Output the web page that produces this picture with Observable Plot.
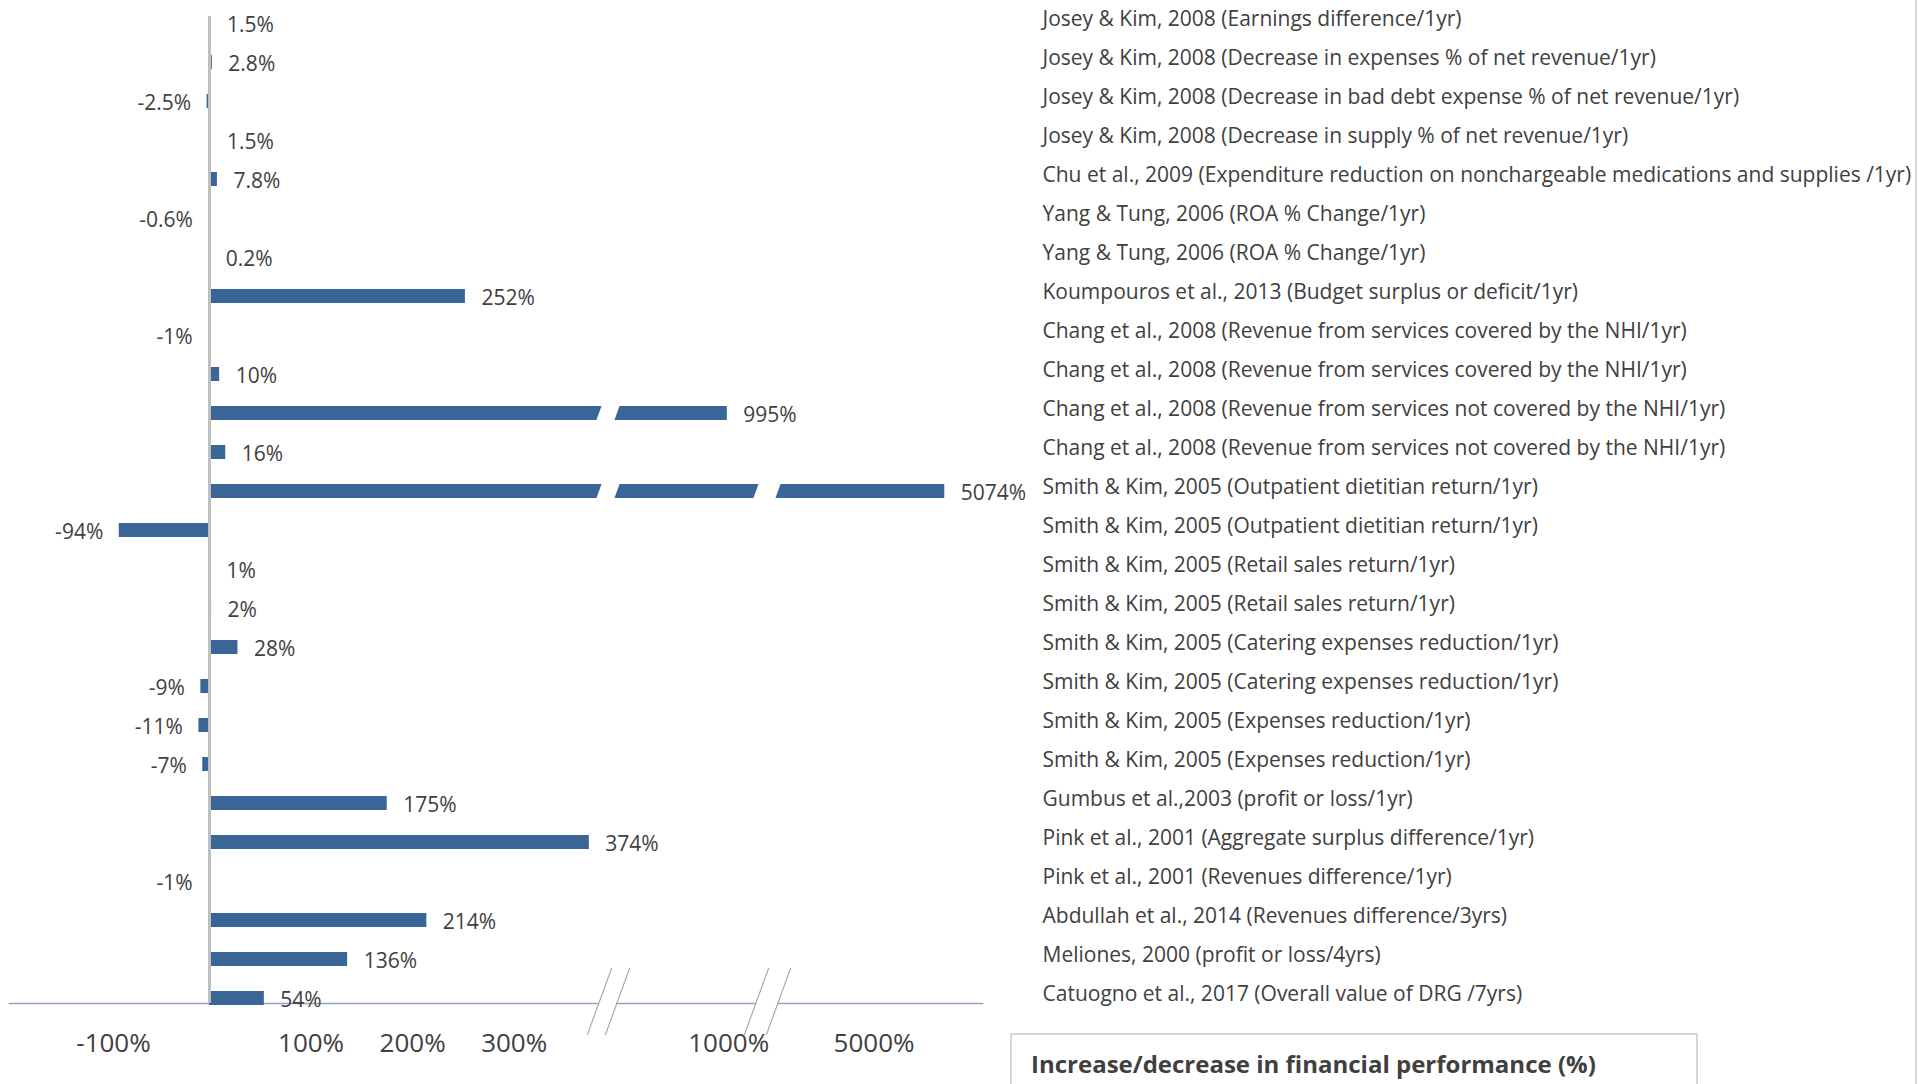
<!DOCTYPE html>
<html>
<head>
<meta charset="utf-8">
<script src="https://cdn.jsdelivr.net/npm/d3@7"></script>
<script src="https://cdn.jsdelivr.net/npm/@observablehq/plot@0.6"></script>
<style>
  html, body { margin: 0; padding: 0; background: #fff; overflow: hidden; }
  #wrap { position: relative; width: 1921px; height: 1084px; }
  #edge { position: absolute; left: 1915px; top: 0; width: 2px; height: 1084px; background: #d9d9d9; }
  #title { position: absolute; left: 1010px; top: 1033px; width: 688px; height: 60px; box-sizing: border-box;
           border: 2px solid #d6d6d6; background: #fff; display: flex; align-items: center; padding-left: 19px;
           font-family: "Open Sans", sans-serif; font-weight: 700; font-size: 24px; color: #404040; }
</style>
</head>
<body>
<div id="wrap">
  <div id="chart"></div>
  <div id="edge"></div>
  <div id="title">Increase/decrease in financial performance (%)</div>
</div>
<script>
// ---- data (top to bottom) ----
const studies = [
  "Josey & Kim, 2008 (Earnings difference/1yr)",
  "Josey & Kim, 2008 (Decrease in expenses % of net revenue/1yr)",
  "Josey & Kim, 2008 (Decrease in bad debt expense % of net revenue/1yr)",
  "Josey & Kim, 2008 (Decrease in supply % of net revenue/1yr)",
  "Chu et al., 2009 (Expenditure reduction on nonchargeable medications and supplies /1yr)",
  "Yang & Tung, 2006 (ROA % Change/1yr)",
  "Yang & Tung, 2006 (ROA % Change/1yr)",
  "Koumpouros et al., 2013 (Budget surplus or deficit/1yr)",
  "Chang et al., 2008 (Revenue from services covered by the NHI/1yr)",
  "Chang et al., 2008 (Revenue from services covered by the NHI/1yr)",
  "Chang et al., 2008 (Revenue from services not covered by the NHI/1yr)",
  "Chang et al., 2008 (Revenue from services not covered by the NHI/1yr)",
  "Smith & Kim, 2005 (Outpatient dietitian return/1yr)",
  "Smith & Kim, 2005 (Outpatient dietitian return/1yr)",
  "Smith & Kim, 2005 (Retail sales return/1yr)",
  "Smith & Kim, 2005 (Retail sales return/1yr)",
  "Smith & Kim, 2005 (Catering expenses reduction/1yr)",
  "Smith & Kim, 2005 (Catering expenses reduction/1yr)",
  "Smith & Kim, 2005 (Expenses reduction/1yr)",
  "Smith & Kim, 2005 (Expenses reduction/1yr)",
  "Gumbus et al.,2003 (profit or loss/1yr)",
  "Pink et al., 2001 (Aggregate surplus difference/1yr)",
  "Pink et al., 2001 (Revenues difference/1yr)",
  "Abdullah et al., 2014 (Revenues difference/3yrs)",
  "Meliones, 2000 (profit or loss/4yrs)",
  "Catuogno et al., 2017 (Overall value of DRG /7yrs)"
];
const values = [1.5, 2.8, -2.5, 1.5, 7.8, -0.6, 0.2, 252, -1, 10, 995, 16, 5074, -94,
                1, 2, 28, -9, -11, -7, 175, 374, -1, 214, 136, 54];
const xTicks = [-100, 100, 200, 300, 1000, 5000];
// broken axis: value intervals that are collapsed into a small gap
const breaks = [{from: 384, to: 600}, {from: 1100, to: 4900}];

// ---- broken-axis scale transform ----
const brokenAxis = d3.scaleLinear()
  .domain([-100, 0, 384, 600, 1100, 4900, 5080])
  .range([-96, 0, 390, 408, 547, 569, 741]);

const rows = values.map((v, i) => ({i, value: v, label: v + "%"}));
const gapRows = breaks.flatMap(b => rows.filter(d => d.value > b.to).map(d => ({i: d.i, from: b.from, to: b.to})));
const slashes = breaks.flatMap(b => [b.from, b.to]);

const BAR = "#3a6597";
const TEXT = "#404040";

const chart = Plot.plot({
  width: 1921,
  height: 1084,
  marginTop: 16,
  marginBottom: 81,
  marginLeft: 9,
  marginRight: 939,
  style: {fontFamily: "Open Sans, sans-serif", background: "transparent", overflow: "visible"},
  x: {transform: (v) => brokenAxis(v), domain: [-200, 773], label: null},
  y: {domain: d3.range(studies.length), range: [0, 1022], paddingInner: 0.64, paddingOuter: 0.32, label: null},
  marks: [
    Plot.frame({anchor: "bottom", stroke: "#8ea3c9", strokeWidth: 1.6}),
    Plot.barX(rows, {x1: () => 0, x2: "value", y: "i", fill: BAR}),
    Plot.barX(gapRows, {x1: "from", x2: "to", y: "i", fill: "#fffffe", insetTop: -2, insetBottom: -2}),
    Plot.rect(breaks, {x1: "from", x2: "to", fill: "#fffffe", insetTop: 978, insetBottom: -6}),
    Plot.ruleX(slashes, {x: d => d, stroke: "#a6a6a7", strokeWidth: 1.2, insetTop: 952, insetBottom: -32}),
    Plot.ruleX([0], {stroke: "#bfbfbf", strokeWidth: 3}),
    Plot.text(rows.filter(d => d.value >= 0), {x: "value", y: "i", text: "label", textAnchor: "start", dx: 16, dy: 2, fontSize: 21, fill: TEXT}),
    Plot.text(rows.filter(d => d.value < 0), {x: "value", y: "i", text: "label", textAnchor: "end", dx: -16, dy: 2, fontSize: 21, fill: TEXT}),
    Plot.axisY({anchor: "right", label: null, tickSize: 0, tickPadding: 60, dy: -4, fontSize: 21, fill: TEXT, tickFormat: (i) => studies[i]}),
    Plot.axisX(xTicks, {label: null, tickSize: 0, tickPadding: 30, fontSize: 26, fill: TEXT, tickFormat: (d) => d + "%"})
  ]
});
document.getElementById("chart").appendChild(chart);

// slanted break gaps and axis-break slashes
d3.select(chart).selectAll('g[fill="#fffffe"] rect, g[stroke="#a6a6a7"] line')
  .style("transform-box", "fill-box")
  .style("transform-origin", "center")
  .style("transform", "skewX(-20deg)");
</script>
</body>
</html>
